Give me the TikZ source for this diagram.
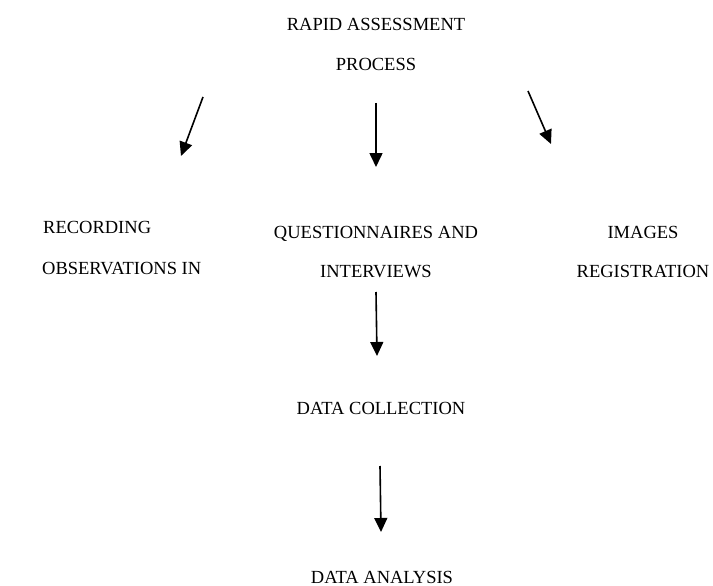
\documentclass[tikz,border=0pt]{standalone}
\usepackage{fontspec}
\setmainfont{Liberation Serif}
\usetikzlibrary{arrows.meta}
\begin{document}
\begin{tikzpicture}[x=1pt,y=-1pt,
  lbl/.style={inner sep=0pt, anchor=base, font=\fontsize{18.5}{22}\selectfont},
  lblw/.style={lbl, anchor=base west},
  arr/.style={line width=1.6pt, -{Triangle[length=14pt,width=13pt]}}]
\useasboundingbox (0,0) rectangle (713,586);
% texts
\node[lbl] (rap1) at (376,31) {RAPID ASSESSMENT};
\node[lbl] (rap2) at (376,71) {PROCESS};
\node[lblw] (rec1) at (43,233) {RECORDING};
\node[lblw] (rec2) at (42,274) {OBSERVATIONS IN};
\node[lbl] (que1) at (376,238) {QUESTIONNAIRES AND};
\node[lbl] (que2) at (376,277) {INTERVIEWS};
\node[lbl] (img1) at (643,238) {IMAGES};
\node[lbl] (img2) at (643,277) {REGISTRATION};
\node[lbl] (coll) at (381,414) {DATA COLLECTION};
\node[lbl] (anal) at (382,583) {DATA ANALYSIS};
% arrow end points
\coordinate (a1s) at (203,97);  \coordinate (a1e) at (181,156);
\coordinate (a2s) at (376,103); \coordinate (a2e) at (376,167);
\coordinate (a3s) at (528,91);  \coordinate (a3e) at (551,144);
\coordinate (a4s) at (376,292); \coordinate (a4e) at (377,356);
\coordinate (a5s) at (380,466); \coordinate (a5e) at (381,532);
\draw[arr] (a1s) -- (a1e);
\draw[arr] (a2s) -- (a2e);
\draw[arr] (a3s) -- (a3e);
\draw[arr] (a4s) -- (a4e);
\draw[arr] (a5s) -- (a5e);
\end{tikzpicture}
\end{document}
